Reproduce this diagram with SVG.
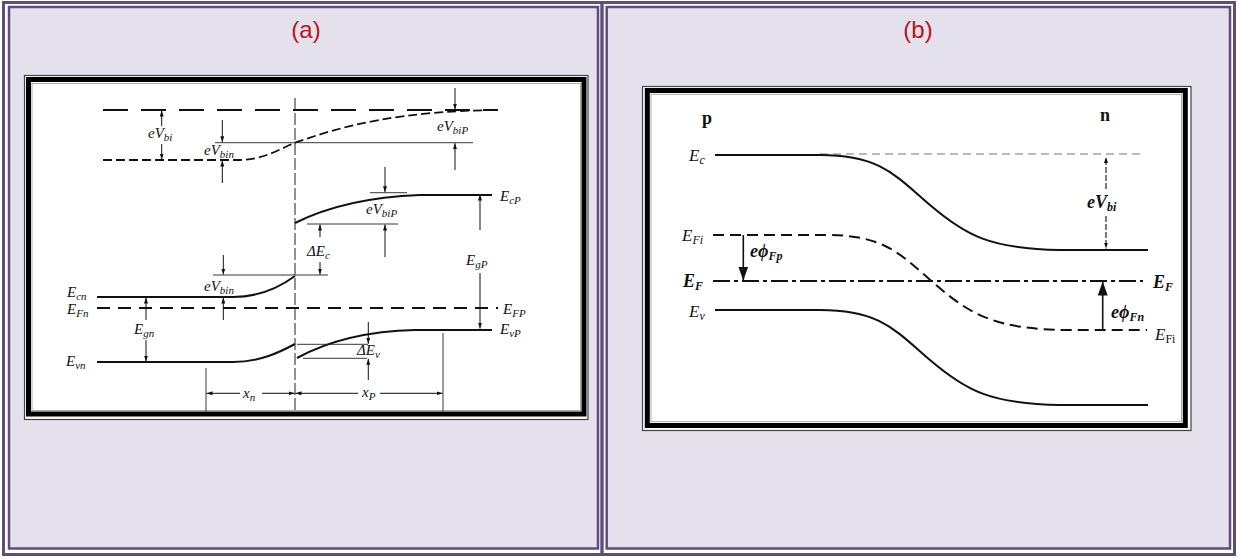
<svg xmlns="http://www.w3.org/2000/svg" width="1239" height="559" viewBox="0 0 1239 559">
<defs>
<style>
.cell{fill:#E4E0EC;stroke:#5E4B80;stroke-width:2.5}
.title{font-family:"Liberation Sans",Arial,sans-serif;font-size:24px;fill:#B8141C;text-anchor:middle}
.lab{font-family:"Liberation Serif","Times New Roman",serif;font-style:italic;font-size:15px;fill:#111}
.sub{font-size:11px}
.blab{font-family:"Liberation Serif","Times New Roman",serif;font-style:italic;font-weight:bold;font-size:18px;fill:#111}
.ilab{font-family:"Liberation Serif","Times New Roman",serif;font-style:italic;font-size:17px;fill:#111}
.sub2{font-size:12px}
.pn{font-family:"Liberation Serif","Times New Roman",serif;font-weight:bold;font-size:18px;fill:#111}
.band{fill:none;stroke:#111;stroke-width:2}
.thin{fill:none;stroke:#222;stroke-width:0.9}
.arr{fill:none;stroke:#111;stroke-width:1;marker-end:url(#ah)}
.barr{fill:none;stroke:#111;stroke-width:1.6;marker-end:url(#bh)}
</style>
<marker id="ah" viewBox="0 0 12 8" refX="12" refY="4" markerWidth="6" markerHeight="4" markerUnits="userSpaceOnUse" orient="auto"><path d="M0,0 L12,4 L0,8 z" fill="#111"/></marker>
<marker id="bh" viewBox="0 0 14 10" refX="14" refY="5" markerWidth="14" markerHeight="10" markerUnits="userSpaceOnUse" orient="auto"><path d="M0,0 L14,5 L0,10 z" fill="#111"/></marker>
</defs>

<g id="frame">
<rect x="0" y="0" width="1239" height="559" fill="#fff"/>
<rect x="3.5" y="2.5" width="1231" height="552" fill="none" stroke="#5E4B80" stroke-width="3"/>
<rect class="cell" x="9" y="7" width="589" height="541.5"/>
<line x1="602" y1="4" x2="602" y2="553" stroke="#5E4B80" stroke-width="3.4"/>
<rect class="cell" x="606.7" y="7" width="623.3" height="541.5"/>
</g>

<g id="title-a"><text class="title" x="306" y="38">(a)</text></g>
<g id="title-b"><text class="title" x="918" y="38">(b)</text></g>

<!-- Panel (a) -->
<g id="panel-a-frame">
<rect x="24.5" y="75.5" width="563.5" height="344" fill="#fff" stroke="#444" stroke-width="1.2"/>
<rect x="28.5" y="79.5" width="555.5" height="334.5" fill="none" stroke="#000" stroke-width="5"/>
<rect x="32" y="83.5" width="548.5" height="327" fill="none" stroke="#aaa" stroke-width="1"/>
</g>

<g id="a-vacuum-top"><path d="M103,110 H498" fill="none" stroke="#111" stroke-width="2" stroke-dasharray="25 13"/></g>
<g id="a-vacuum-curve"><path d="M103,160 H240 C262,160 280,149 295,142.7 C345,125 400,111 498,110" fill="none" stroke="#111" stroke-width="1.8" stroke-dasharray="9 4"/></g>
<g id="a-junction"><path d="M295,98 V413" fill="none" stroke="#222" stroke-width="1" stroke-dasharray="12 3"/></g>
<g id="a-EcP"><path class="band" d="M295,223 C325,208 365,197 420,195 H492"/>
<text class="lab" x="500" y="201">E<tspan class="sub" dy="3">cP</tspan></text></g>
<g id="a-Ecn"><path class="band" d="M97,297 H233 C260,297 280,287 295,276"/>
<text class="lab" x="67" y="297">E<tspan class="sub" dy="3">cn</tspan></text></g>
<g id="a-EF"><path d="M97,308 H498" fill="none" stroke="#111" stroke-width="2" stroke-dasharray="13 8"/>
<text class="lab" x="67" y="314">E<tspan class="sub" dy="3">Fn</tspan></text>
<text class="lab" x="503" y="314">E<tspan class="sub" dy="3">FP</tspan></text></g>
<g id="a-Evn"><path class="band" d="M97,362 H233 C260,362 280,352 295,344"/>
<text class="lab" x="66" y="366">E<tspan class="sub" dy="3">vn</tspan></text></g>
<g id="a-EvP"><path class="band" d="M297,358 C330,340 370,331 415,330 H492"/>
<text class="lab" x="500" y="334">E<tspan class="sub" dy="3">vP</tspan></text></g>

<g id="a-refs">
<path class="thin" d="M215,142.7 H473"/>
<path class="thin" d="M370,192.7 H407"/>
<path class="thin" d="M307,224 H398"/>
<path class="thin" d="M213,275 H328"/>
<path class="thin" d="M297,344.3 H368"/>
<path class="thin" d="M303,358.3 H367"/>
<path class="thin" d="M206,368 V413"/>
<path class="thin" d="M443,333 V413"/>
</g>

<g id="a-labels">
<text class="lab" x="148" y="138">eV<tspan class="sub" dy="3">bi</tspan></text>
<text class="lab" x="204" y="155">eV<tspan class="sub" dy="3">bin</tspan></text>
<text class="lab" x="437" y="131">eV<tspan class="sub" dy="2.5">biP</tspan></text>
<text class="lab" x="366" y="214">eV<tspan class="sub" dy="2.5">biP</tspan></text>
<text class="lab" x="307" y="256">ΔE<tspan class="sub" dy="3">c</tspan></text>
<text class="lab" x="466" y="265">E<tspan class="sub" dy="3">gP</tspan></text>
<text class="lab" x="204" y="291">eV<tspan class="sub" dy="3">bin</tspan></text>
<text class="lab" x="134" y="334">E<tspan class="sub" dy="3">gn</tspan></text>
<text class="lab" x="357" y="355">ΔE<tspan class="sub" dy="3">v</tspan></text>
<text class="lab" x="243" y="398">x<tspan class="sub" dy="3">n</tspan></text>
<text class="lab" x="362" y="397">x<tspan class="sub" dy="3">P</tspan></text>
</g>

<g id="connectors-a">
<path class="arr" d="M161.7,126 V110.5"/>
<path class="arr" d="M161.7,144 V159.5"/>
<path class="arr" d="M222.3,120 V142.2"/>
<path class="arr" d="M222.3,183 V160.5"/>
<path class="arr" d="M455,88 V109.5"/>
<path class="arr" d="M455,170 V143.2"/>
<path class="arr" d="M385,167 V192.2"/>
<path class="arr" d="M385,257 V224.5"/>
<path class="arr" d="M320,237 V224.5"/>
<path class="arr" d="M320,262 V274.5"/>
<path class="arr" d="M480,230 V194.5"/>
<path class="arr" d="M480,273 V328.5"/>
<path class="arr" d="M223.3,255 V274.5"/>
<path class="arr" d="M223.3,320 V297.5"/>
<path class="arr" d="M146,320 V297.5"/>
<path class="arr" d="M146,340 V361.5"/>
<path class="arr" d="M368.3,322 V343.8"/>
<path class="arr" d="M368.3,380 V358.8"/>
<path class="arr" d="M240,393.3 H206.5"/>
<path class="arr" d="M262,393.3 H294.5"/>
<path class="arr" d="M358,393.3 H295.5"/>
<path class="arr" d="M380,393.3 H442.5"/>
</g>

<!-- Panel (b) -->
<g id="panel-b-frame">
<rect x="642.5" y="86.5" width="548.5" height="344" fill="#fff" stroke="#444" stroke-width="1.2"/>
<rect x="647.3" y="90.5" width="538" height="335" fill="none" stroke="#000" stroke-width="5"/>
<rect x="651" y="94.3" width="530.5" height="327.4" fill="none" stroke="#aaa" stroke-width="1"/>
</g>

<g id="b-p"><text class="pn" x="702" y="124">p</text></g>
<g id="b-n"><text class="pn" x="1100" y="121">n</text></g>
<g id="b-Ec-ref"><path d="M820,154 H1143" fill="none" stroke="#777" stroke-width="1.2" stroke-dasharray="8 5"/></g>
<g id="b-Ec"><path class="band" d="M715,155 H820 C880,155 895,175 930,205 C965,235 990,249 1060,250 H1148"/>
<text class="ilab" x="689" y="161">E<tspan class="sub2" dy="3">c</tspan></text></g>
<g id="b-EFi"><path d="M713,235 H826 C886,235 901,255 936,285 C971,315 996,329 1066,330 H1147" fill="none" stroke="#111" stroke-width="2" stroke-dasharray="11 6"/>
<text class="ilab" x="682" y="241">E<tspan class="sub2" dy="3">Fi</tspan></text>
<text class="ilab" x="1155" y="340">E<tspan class="sub2" dy="3" font-style="normal">Fi</tspan></text></g>
<g id="b-EF"><path d="M713,281 H1143" fill="none" stroke="#111" stroke-width="2" stroke-dasharray="17 4 4 4"/>
<text class="blab" x="683" y="287">E<tspan class="sub2" dy="3">F</tspan></text>
<text class="blab" x="1153" y="288">E<tspan class="sub2" dy="3">F</tspan></text></g>
<g id="b-Ev"><path class="band" d="M715,310 H820 C880,310 895,330 930,360 C965,390 990,404 1060,405 H1148"/>
<text class="ilab" x="689" y="317">E<tspan class="sub2" dy="3">v</tspan></text></g>
<g id="b-labels">
<text class="blab" x="1087" y="208">eV<tspan class="sub2" dy="3">bi</tspan></text>
<text class="blab" x="750" y="257">eϕ<tspan class="sub2" dy="3">Fp</tspan></text>
<text class="blab" x="1111" y="318">eϕ<tspan class="sub2" dy="3">Fn</tspan></text>
</g>

<g id="connectors-b">
<path d="M1106,189 V157" fill="none" stroke="#111" stroke-width="1.1" stroke-dasharray="6 2" marker-end="url(#ah)"/>
<path d="M1106,216 V248.5" fill="none" stroke="#111" stroke-width="1.1" stroke-dasharray="6 2" marker-end="url(#ah)"/>
<path class="barr" d="M743.3,235 V280.5"/>
<path class="barr" d="M1102.7,329.5 V281.5"/>
</g>
</svg>
